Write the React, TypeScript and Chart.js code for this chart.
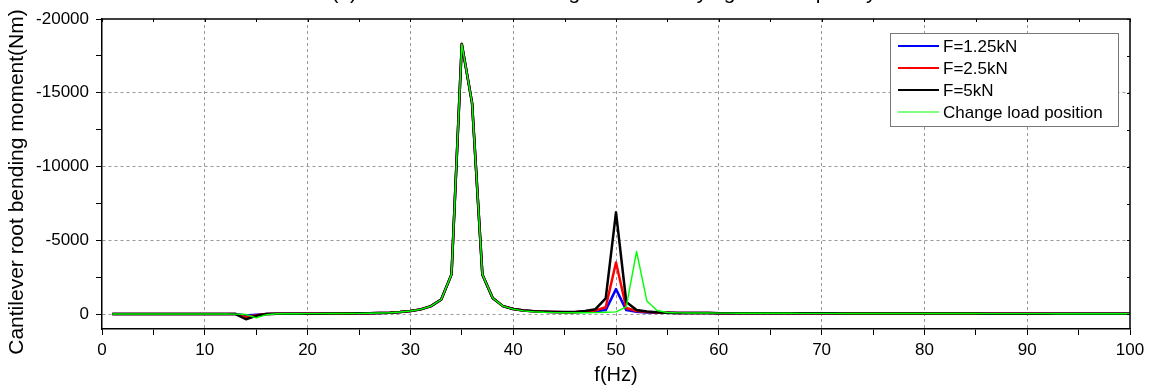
import React, { useEffect, useRef } from 'react';
import { Chart, registerables } from 'chart.js';

Chart.register(...registerables);

const TITLE = '(a) Cantilever root bending moment varying with frequency';
const X_TITLE = 'f(Hz)';
const Y_TITLE = 'Cantilever root bending moment(Nm)';

const FREQ = [
  1, 2, 3, 4, 5, 6, 7, 8, 9, 10,
  11, 12, 13, 14, 15, 16, 17, 18, 19, 20,
  21, 22, 23, 24, 25, 26, 27, 28, 29, 30,
  31, 32, 33, 34, 35, 36, 37, 38, 39, 40,
  41, 42, 43, 44, 45, 46, 47, 48, 49, 50,
  51, 52, 53, 54, 55, 56, 57, 58, 59, 60,
  61, 62, 63, 64, 65, 66, 67, 68, 69, 70,
  71, 72, 73, 74, 75, 76, 77, 78, 79, 80,
  81, 82, 83, 84, 85, 86, 87, 88, 89, 90,
  91, 92, 93, 94, 95, 96, 97, 98, 99, 100,
];

const F125 = [
  -20, -20, -20, -20, -20, -20, -20, -20, -20, -20,
  -20, -20, -10, 80, 30, -20, -30, -30, -30, -40,
  -40, -50, -50, -50, -60, -70, -80, -100, -150, -220,
  -330, -550, -1000, -2700, -18300, -14300, -2700, -1100, -550, -350,
  -250, -200, -170, -150, -140, -140, -170, -200, -280, -1700,
  -280, -160, -120, -100, -95, -90, -85, -80, -80, -75,
  -75, -70, -70, -70, -65, -65, -65, -60, -60, -60,
  -60, -55, -55, -55, -55, -50, -50, -50, -50, -50,
  -45, -45, -45, -45, -45, -40, -40, -40, -40, -40,
  -40, -40, -35, -35, -35, -35, -35, -30, -30, -30,
];

const F25 = [
  -20, -20, -20, -20, -20, -20, -20, -20, -20, -20,
  -20, -20, -10, 200, 60, -20, -30, -30, -30, -40,
  -40, -50, -50, -50, -60, -70, -80, -100, -150, -220,
  -330, -550, -1000, -2700, -18300, -14300, -2700, -1100, -550, -350,
  -250, -200, -170, -150, -140, -140, -200, -260, -470, -3500,
  -420, -220, -150, -120, -100, -90, -85, -80, -80, -75,
  -75, -70, -70, -70, -65, -65, -65, -60, -60, -60,
  -60, -55, -55, -55, -55, -50, -50, -50, -50, -50,
  -45, -45, -45, -45, -45, -40, -40, -40, -40, -40,
  -40, -40, -35, -35, -35, -35, -35, -30, -30, -30,
];

const F5 = [
  -20, -20, -20, -20, -20, -20, -20, -20, -20, -20,
  -20, -20, -10, 340, 100, -20, -30, -30, -30, -40,
  -40, -50, -50, -50, -60, -70, -80, -100, -150, -220,
  -330, -550, -1000, -2700, -18300, -14300, -2700, -1100, -550, -350,
  -250, -200, -170, -150, -150, -160, -220, -340, -1080, -6900,
  -830, -280, -180, -130, -105, -90, -85, -80, -80, -75,
  -75, -70, -70, -70, -65, -65, -65, -60, -60, -60,
  -60, -55, -55, -55, -55, -50, -50, -50, -50, -50,
  -45, -45, -45, -45, -45, -40, -40, -40, -40, -40,
  -40, -40, -35, -35, -35, -35, -35, -30, -30, -30,
];

const MOVED = [
  -20, -20, -20, -20, -20, -20, -20, -20, -20, -20,
  -20, -20, -10, 20, 250, 30, -30, -30, -30, -40,
  -40, -50, -50, -50, -60, -70, -80, -100, -150, -220,
  -330, -550, -1000, -2700, -18300, -14300, -2700, -1100, -550, -350,
  -230, -170, -130, -110, -100, -100, -100, -110, -130, -160,
  -500, -4250, -900, -250, -120, -90, -85, -80, -80, -75,
  -75, -70, -70, -70, -65, -65, -65, -60, -60, -60,
  -60, -55, -55, -55, -55, -50, -50, -50, -50, -50,
  -45, -45, -45, -45, -45, -40, -40, -40, -40, -40,
  -40, -40, -35, -35, -35, -35, -35, -30, -30, -30,
];

const X_TICKS = [0, 5, 10, 15, 20, 25, 30, 35, 40, 45, 50, 55, 60, 65, 70, 75, 80, 85, 90, 95, 100];
const X_LABELED = [0, 10, 20, 30, 40, 50, 60, 70, 80, 90, 100];
const Y_TICKS = [-20000, -17500, -15000, -12500, -10000, -7500, -5000, -2500, 0];
const Y_LABELED = [-20000, -15000, -10000, -5000, 0];

const SERIES_LABELS = ['F=1.25kN', 'F=2.5kN', 'F=5kN', 'Change load position'];
const SERIES_COLORS = ['#0000ff', '#ff0000', '#000000', '#00ff00'];
const SERIES_WIDTHS = [2.5, 2.5, 2.5, 1.4];

const X_MIN = 0;
const X_MAX = 100;
const Y_MIN = -20000;
const Y_MAX = 1000;

const FONT = '"Liberation Sans", Arial, Helvetica, sans-serif';
const NARROW = '"Liberation Sans Narrow", "Liberation Sans", Arial, sans-serif';

const decorPlugin = {
  id: 'decor',
  afterDraw(chart: any) {
    const { ctx, chartArea, scales } = chart;
    const { left, right, top, bottom } = chartArea;
    ctx.save();
    // frame top/right
    ctx.strokeStyle = '#000';
    ctx.lineWidth = 1.5;
    ctx.beginPath();
    ctx.moveTo(left, top);
    ctx.lineTo(right, top);
    ctx.lineTo(right, bottom);
    ctx.stroke();
    // mirrored small ticks on top and right
    ctx.lineWidth = 1;
    ctx.beginPath();
    X_TICKS.forEach((v) => {
      const px = Math.round(scales.x.getPixelForValue(v)) + 0.5;
      ctx.moveTo(px, top);
      ctx.lineTo(px, top + 3);
    });
    Y_TICKS.forEach((v) => {
      const py = Math.round(scales.y.getPixelForValue(v)) + 0.5;
      ctx.moveTo(right, py);
      ctx.lineTo(right - 3, py);
    });
    ctx.stroke();

    // clipped title
    ctx.fillStyle = '#000';
    ctx.font = `21px ${FONT}`;
    ctx.textAlign = 'center';
    ctx.textBaseline = 'alphabetic';
    ctx.fillText(TITLE, 604, -1);

    // y axis title
    ctx.save();
    ctx.translate(17, 182);
    ctx.rotate(-Math.PI / 2);
    ctx.font = `21px ${FONT}`;
    ctx.textAlign = 'center';
    ctx.textBaseline = 'middle';
    ctx.fillText(Y_TITLE, 0, 0);
    ctx.restore();

    // legend
    const bx = right - 240;
    const by = top + 14;
    const bw = 228;
    const bh = 93;
    ctx.fillStyle = '#fff';
    ctx.fillRect(bx, by, bw, bh);
    ctx.strokeStyle = '#777';
    ctx.lineWidth = 1;
    ctx.strokeRect(bx + 0.5, by + 0.5, bw, bh);
    ctx.font = `17px ${FONT}`;
    ctx.textAlign = 'left';
    ctx.textBaseline = 'middle';
    SERIES_LABELS.forEach((lab, i) => {
      const y = by + 13 + i * 22;
      ctx.strokeStyle = SERIES_COLORS[i];
      ctx.lineWidth = i === 3 ? 1.2 : 2.2;
      ctx.beginPath();
      ctx.moveTo(bx + 8, y);
      ctx.lineTo(bx + 49, y);
      ctx.stroke();
      ctx.fillStyle = '#000';
      ctx.fillText(lab, bx + 53, y + 1);
    });
    ctx.restore();
  },
};

export default function App() {
  const ref = useRef<HTMLCanvasElement | null>(null);

  useEffect(() => {
    document.body.style.margin = '0';
    const canvas = ref.current;
    if (!canvas) return;
    const data = [F125, F25, F5, MOVED];
    const chart = new Chart(canvas, {
      type: 'line',
      data: {
        datasets: data.map((arr, i) => ({
          label: SERIES_LABELS[i],
          data: FREQ.map((f, j) => ({ x: f, y: arr[j] })),
          borderColor: SERIES_COLORS[i],
          backgroundColor: SERIES_COLORS[i],
          borderWidth: SERIES_WIDTHS[i],
          borderJoinStyle: 'round' as const,
          pointRadius: 0,
          tension: 0,
          fill: false,
          order: 3 - i,
        })),
      },
      options: {
        animation: false,
        responsive: true,
        maintainAspectRatio: false,
        layout: { padding: { top: 19, right: 21, left: 0, bottom: 0 } },
        plugins: {
          legend: { display: false },
          tooltip: { enabled: false },
          title: { display: false },
        },
        scales: {
          x: {
            type: 'linear',
            min: X_MIN,
            max: X_MAX,
            afterFit(scale: any) {
              scale.height = 58;
            },
            afterBuildTicks(scale: any) {
              scale.ticks = X_TICKS.map((v) => ({ value: v }));
            },
            ticks: {
              autoSkip: false,
              maxRotation: 0,
              padding: 5,
              color: '#000',
              font: { family: NARROW, size: 17 },
              callback: (v: any) => (X_LABELED.includes(Number(v)) ? String(v) : ''),
            },
            grid: {
              color: (c: any) => {
                const v = c.tick ? c.tick.value : 0;
                return X_LABELED.includes(v) && v !== X_MIN && v !== X_MAX ? '#999' : 'rgba(0,0,0,0)';
              },
              lineWidth: 1,
              tickColor: '#000',
              tickLength: 6,
              tickWidth: 1,
              drawTicks: true,
            },
            border: { display: true, color: '#000', width: 1.5, dash: [3, 3] },
            title: {
              display: true,
              text: X_TITLE,
              color: '#000',
              font: { family: FONT, size: 20 },
              padding: { top: 0, bottom: 0 },
            },
          },
          y: {
            type: 'linear',
            min: Y_MIN,
            max: Y_MAX,
            reverse: true,
            afterFit(scale: any) {
              scale.width = 102;
            },
            afterBuildTicks(scale: any) {
              scale.ticks = Y_TICKS.map((v) => ({ value: v }));
            },
            ticks: {
              autoSkip: false,
              padding: 7,
              color: '#000',
              font: { family: FONT, size: 17 },
              callback: (v: any) => (Y_LABELED.includes(Number(v)) ? String(v) : ''),
            },
            grid: {
              color: (c: any) => {
                const v = c.tick ? c.tick.value : 0;
                return Y_LABELED.includes(v) && v !== Y_MIN ? '#999' : 'rgba(0,0,0,0)';
              },
              lineWidth: 1,
              tickColor: '#000',
              tickLength: 6,
              tickWidth: 1,
              drawTicks: true,
            },
            border: { display: true, color: '#000', width: 1.5, dash: [3, 3] },
            title: { display: false },
          },
        },
      },
      plugins: [decorPlugin],
    });
    return () => chart.destroy();
  }, []);

  return (
    <div style={{ width: 1151, height: 387, position: 'relative', background: '#fff' }}>
      <canvas ref={ref} />
    </div>
  );
}
